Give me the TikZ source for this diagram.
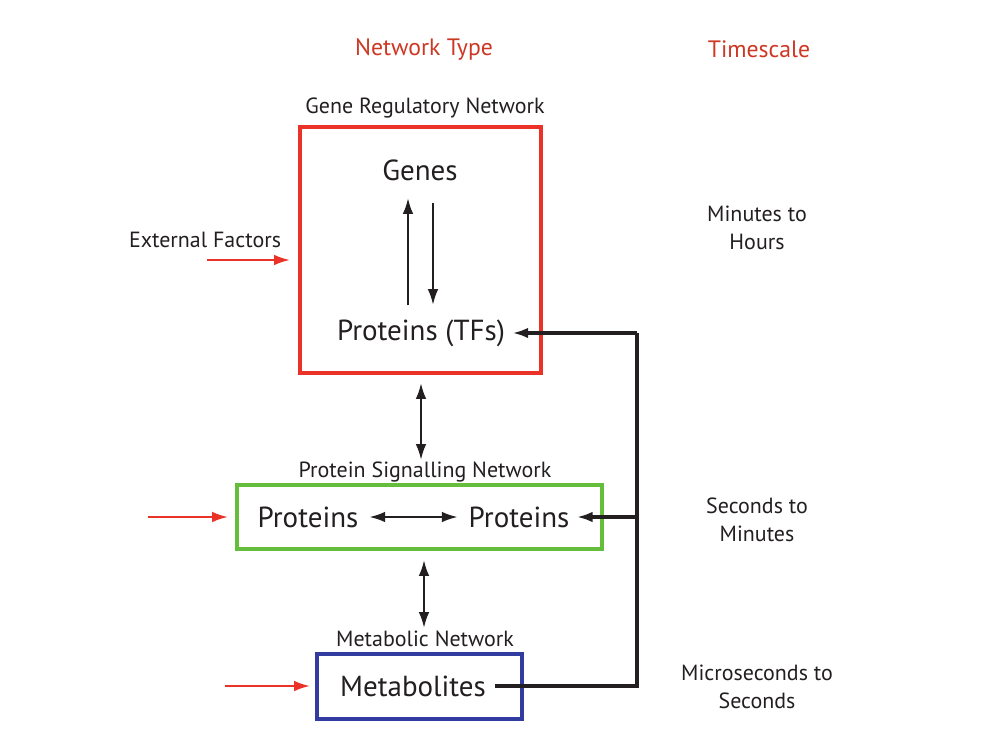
\documentclass[tikz,border=0pt]{standalone}
\usepackage{fontspec}
\setmainfont{PT Sans}
\usetikzlibrary{arrows.meta}
\definecolor{titlered}{RGB}{205,55,35}
\definecolor{boxred}{RGB}{235,50,40}
\definecolor{boxgreen}{RGB}{100,190,60}
\definecolor{boxblue}{RGB}{50,60,160}
\definecolor{ink}{RGB}{35,31,32}
\tikzset{
  heading/.style={text=titlered,font=\fontsize{13.5}{16}\selectfont},
  netname/.style={text=ink,font=\fontsize{12.5}{15}\selectfont},
  molecule/.style={text=ink,font=\fontsize{16.5}{19}\selectfont,inner sep=2pt},
  timescale/.style={text=ink,font=\fontsize{12.5}{16}\selectfont,align=center},
  netbox/.style={line width=2pt},
  tip/.style={-{Latex[length=9pt,width=6pt]}},
  link/.style={draw=ink,line width=1.3pt,tip},
  twoway/.style={draw=ink,line width=1.3pt,{Latex[length=9pt,width=6pt]}-{Latex[length=9pt,width=6pt]}},
  feedback/.style={draw=ink,line width=1.8pt},
  external/.style={draw=boxred,line width=1.2pt,tip},
}
\begin{document}
\begin{tikzpicture}
\useasboundingbox (0,0) rectangle (19.98,-14.98);
% headings
\node[heading] (nettype) at (8.48,-0.98) {Network Type};
\node[heading] (timehead) at (15.18,-0.98) {Timescale};
% gene regulatory network
\node[netname] (grnname) at (8.50,-2.16) {Gene Regulatory Network};
\draw[boxred,netbox] (6.00,-2.54) rectangle (10.82,-7.46);
\node[molecule] (genes) at (8.40,-3.40) {Genes};
\node[molecule] (tfs) at (8.42,-6.66) {Proteins (TFs)};
\coordinate (upfoot) at (8.16,-6.10);
\coordinate (uptip) at (8.16,-3.96);
\coordinate (downfoot) at (8.66,-4.06);
\coordinate (downtip) at (8.66,-6.10);
\draw[link] (upfoot) -- (uptip);
\draw[link] (downfoot) -- (downtip);
\node[netname] (extname) at (4.10,-4.80) {External Factors};
\coordinate (extgrn) at (4.14,-5.20);
\draw[external] (extgrn) -- (5.80,-5.20);
\node[timescale] (grntime) at (15.14,-4.56) {Minutes to\\Hours};
% protein signalling network
\coordinate (grnlow) at (8.42,-7.66);
\coordinate (psnhigh) at (8.42,-9.20);
\draw[twoway] (grnlow) -- (psnhigh);
\node[netname] (psnname) at (8.50,-9.44) {Protein Signalling Network};
\draw[boxgreen,netbox] (4.74,-9.70) rectangle (12.04,-10.98);
\node[molecule] (protleft) at (6.16,-10.34) {Proteins};
\node[molecule] (protright) at (10.38,-10.34) {Proteins};
\draw[twoway] ([xshift=4pt]protleft.east) -- ([xshift=-4pt]protright.west);
\coordinate (extpsn) at (2.96,-10.34);
\draw[external] (extpsn) -- (4.56,-10.34);
\node[timescale] (psntime) at (15.14,-10.40) {Seconds to\\Minutes};
% metabolic network
\coordinate (psnlow) at (8.48,-11.20);
\coordinate (metahigh) at (8.48,-12.56);
\draw[twoway] (psnlow) -- (metahigh);
\node[netname] (metaname) at (8.50,-12.78) {Metabolic Network};
\draw[boxblue,netbox] (6.34,-13.08) rectangle (10.44,-14.38);
\node[molecule] (metab) at (8.26,-13.72) {Metabolites};
\coordinate (extmeta) at (4.50,-13.72);
\draw[external] (extmeta) -- (6.20,-13.72);
\node[timescale] (metatime) at (15.14,-13.74) {Microseconds to\\Seconds};
% feedback from metabolites
\coordinate (fbmid) at (12.74,-10.34);
\coordinate (fbtop) at (12.74,-6.66);
\draw[feedback] ([xshift=3pt]metab.east) -| (fbtop);
\draw[link,line width=1.8pt] (fbtop) -- ([xshift=2pt]tfs.east);
\draw[link,line width=1.8pt] (fbmid) -- ([xshift=2pt]protright.east);
\end{tikzpicture}
\end{document}
